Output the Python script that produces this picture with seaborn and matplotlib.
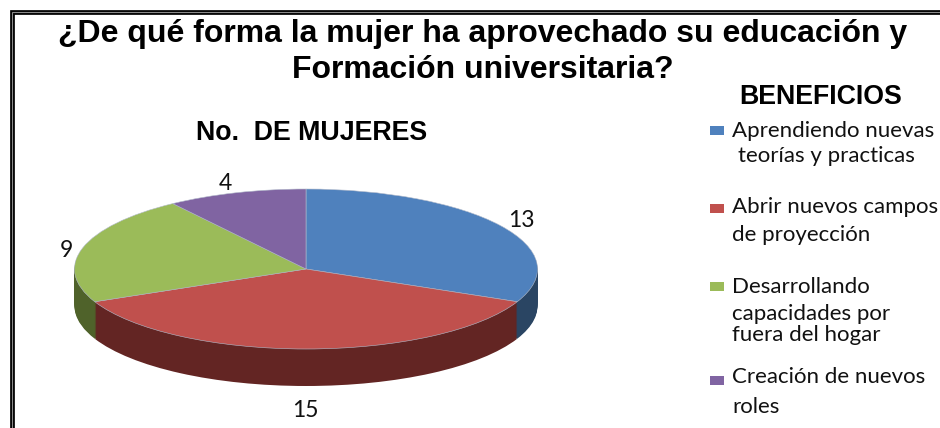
import matplotlib
matplotlib.use("Agg")
import matplotlib.pyplot as plt
from matplotlib.lines import Line2D
from matplotlib.patches import Rectangle
import seaborn as sns

# ---- data ----
title_lines = ["¿De qué forma la mujer ha aprovechado su educación y", "Formación universitaria?"]
series_name = "No.  DE MUJERES"
legend_title = "BENEFICIOS"
values = [13, 15, 9, 4]
top_colors = ["#4F81BD", "#C0504D", "#9BBB59", "#8064A2"]
side_colors = ["#2A4563", "#632523", "#4F622A", "#40325A"]

W, H = 940, 428
CX, CY, RX, RY, DEPTH = 306, 269, 231.5, 80, 37

sns.set_theme(style="white")
fig = plt.figure(figsize=(W / 100, H / 100), dpi=100, facecolor="white")
ax = fig.add_axes([0, 0, 1, 1])

# stacked pies make the extruded wall, the last one is the top face
for d in range(DEPTH, 0, -1):
    ax.pie(values, colors=side_colors, startangle=90, counterclock=False,
           center=(0, -d / RY), radius=1, wedgeprops=dict(linewidth=0))
ax.pie(values, colors=top_colors, startangle=90, counterclock=False,
       center=(0, 0), radius=1, wedgeprops=dict(linewidth=0.4, edgecolor="#B4BCCC"))
ax.set_aspect("auto")
ax.set_xlim(-CX / RX, (W - CX) / RX)
ax.set_ylim((CY - H) / RY, CY / RY)
sns.despine(ax=ax, left=True, bottom=True)

def px(x, y, s, **kw):
    fig.text(x / W, 1 - y / H, s, **kw)

BODY = "Lato"
title_kw = dict(family="Liberation Sans", weight="bold", color="black", va="baseline")
px(482.5, 42, title_lines[0], ha="center", fontsize=23.05, **title_kw)
px(482.5, 78, title_lines[1], ha="center", fontsize=23.05, **title_kw)
px(312, 140, series_name, ha="center", fontsize=19.3, **title_kw)
px(821, 104, legend_title, ha="center", fontsize=19.3, **title_kw)

# data labels
label_xy = [(521, 227), (305, 417), (66, 257), (225, 190)]
for v, (x, y) in zip(values, label_xy):
    px(x, y, str(v), ha="center", va="baseline", family=BODY, fontsize=16.5, color="#111111")

# legend
legend_entries = [
    (130.5, [(732, 137, "Aprendiendo nuevas"), (738, 162, "teorías y practicas")]),
    (208.5, [(732, 213, "Abrir nuevos campos"), (732, 241, "de proyección")]),
    (286.5, [(732, 293, "Desarrollando"), (732, 320, "capacidades por"), (732, 341, "fuera del hogar")]),
    (380, [(732, 383, "Creación de nuevos"), (732, 413, "roles")]),
]
for color, (my, lines) in zip(top_colors, legend_entries):
    fig.add_artist(Rectangle((710 / W, 1 - (my + 4.5) / H), 14 / W, 9 / H,
                             transform=fig.transFigure, facecolor=color, edgecolor="none"))
    for x, y, s in lines:
        px(x, y, s, ha="left", va="baseline", family=BODY, fontsize=16, color="#111111")

# frame: only the left and top edges fall inside the picture
frame_x = [11.5 / W, 11.5 / W, 1.01]
frame_y = [-0.01, 1 - 12 / H, 1 - 12 / H]
for c, lw in (("black", 3.4), ("#8A8A8A", 0.8)):
    fig.add_artist(Line2D(frame_x, frame_y, transform=fig.transFigure, color=c, linewidth=lw,
                          solid_joinstyle="miter"))
fig.savefig("out.png", dpi=100)
